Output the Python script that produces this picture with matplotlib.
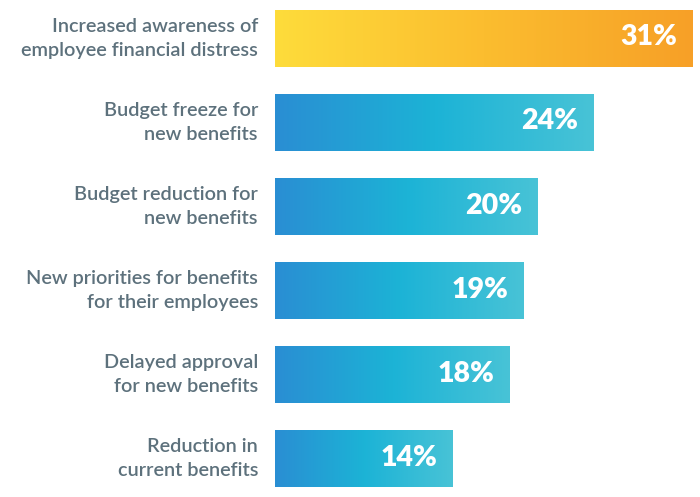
import numpy as np
import matplotlib.pyplot as plt
from matplotlib.colors import LinearSegmentedColormap

labels = [
    "Increased awareness of\nemployee financial distress",
    "Budget freeze for\nnew benefits",
    "Budget reduction for\nnew benefits",
    "New priorities for benefits\nfor their employees",
    "Delayed approval\nfor new benefits",
    "Reduction in\ncurrent benefits",
]
values = [31, 24, 20, 19, 18, 14]

yellow = LinearSegmentedColormap.from_list("y", ["#fedc3b", "#fbbd2f", "#f7a027"])
blue = LinearSegmentedColormap.from_list("b", ["#2a8ed3", "#1cb3d6", "#48c3d6"])

fig = plt.figure(figsize=(7, 4.97), dpi=100)
ax = fig.add_axes([275 / 700, 0, 417 / 700, 1])
x0 = 1.35  # value axis starts a bit right of zero, like the original
ymin, ymax = 5 + (497 - 458.5) / 84, -38.5 / 84
ax.axis("off")

h = 57 / 84
grad = np.linspace(0, 1, 256).reshape(1, -1)
for i, (lab, v) in enumerate(zip(labels, values)):
    cmap = yellow if i == 0 else blue
    bar = ax.barh(i, v, height=h, color="none", edgecolor="none")[0]
    im = ax.imshow(grad, cmap=cmap, aspect="auto",
                   extent=[x0, v, i + h / 2, i - h / 2], zorder=1)
    im.set_clip_path(bar)
    ax.annotate(f"{v}%", xy=(v, i), xytext=(-15, 1), textcoords="offset pixels",
                color="white", fontsize=20.5, fontweight="heavy", family="Lato",
                ha="right", va="center", zorder=3)
    ax.annotate(lab, xy=(0, i), xycoords=("axes fraction", "data"),
                xytext=(-17, 0), textcoords="offset pixels",
                color="#5d717c", fontsize=14.3, fontweight="semibold",
                family="Lato", ha="right", va="center", linespacing=1.45)

ax.set_xlim(x0, 31)
ax.set_ylim(ymin, ymax)
fig.savefig("out.png", dpi=100)
